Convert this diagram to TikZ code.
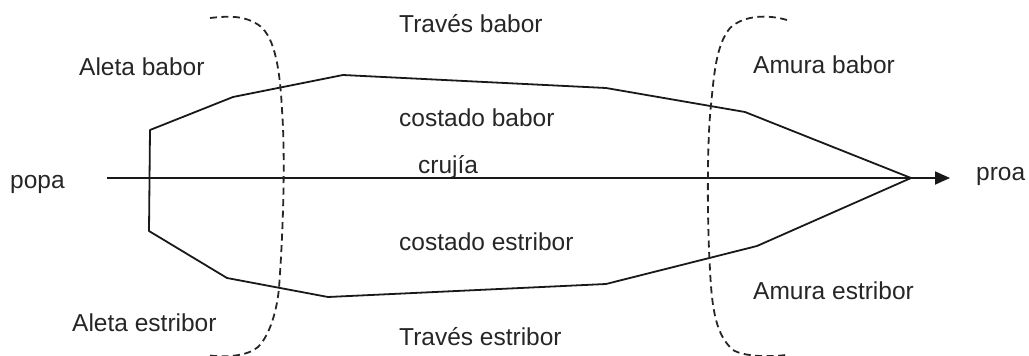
\documentclass[tikz,border=0pt]{standalone}
\usepackage{fontspec}
\setmainfont{Liberation Sans}
\usetikzlibrary{arrows.meta}
\tikzset{lbl/.style={inner sep=0pt,font=\fontsize{24.5}{27}\selectfont,text=black!85},
hull/.style={line width=1.8pt,black!90,line join=round},
bound/.style={line width=1.8pt,black!85,dash pattern=on 7pt off 4.5pt}}
\begin{document}
\begin{tikzpicture}[x=1pt,y=-1pt]
\useasboundingbox (0,0) rectangle (1029,356);
\node[lbl,anchor=base west] (tb) at (399,32) {Través babor};
\node[lbl,anchor=base west] (ab) at (79,75) {Aleta babor};
\node[lbl,anchor=base west] (amb) at (753,73) {Amura babor};
\node[lbl,anchor=base west] (cb) at (399,126) {costado babor};
\node[lbl,anchor=base west] (cr) at (418,173) {crujía};
\node[lbl,anchor=base west] (po) at (10,188) {popa};
\node[lbl,anchor=base west] (pr) at (976,180) {proa};
\node[lbl,anchor=base west] (ce) at (399,250) {costado estribor};
\node[lbl,anchor=base west] (ame) at (753,299) {Amura estribor};
\node[lbl,anchor=base west] (ae) at (72,331) {Aleta estribor};
\node[lbl,anchor=base west] (te) at (399,345) {Través estribor};
\coordinate (s) at (107,178);
\coordinate (e) at (950,178);
\draw[hull,-{Triangle[length=15pt,width=13pt]}] (s) -- (e);
\draw[hull] (911,178) -- (745,112) -- (606,88) -- (343,75) -- (233,97) -- (150,130) -- (149,231) -- (227,278) -- (328,297) -- (606,284) -- (757,246) -- cycle;
\draw[bound] (210,18) .. controls (228,16) and (245,15) .. (260,26) .. controls (275,38) and (280,70) .. (282,110) .. controls (285,150) and (284,220) .. (279,288) .. controls (277,310) and (270,335) .. (258,347) .. controls (248,356) and (225,358) .. (206,355);
\draw[bound] (787,20) .. controls (770,15) and (745,14) .. (730,28) .. controls (716,45) and (714,75) .. (711,105) .. controls (707,140) and (707,220) .. (710,270) .. controls (712,310) and (716,335) .. (733,350) .. controls (745,357) and (770,357) .. (786,355);
\end{tikzpicture}
\end{document}
